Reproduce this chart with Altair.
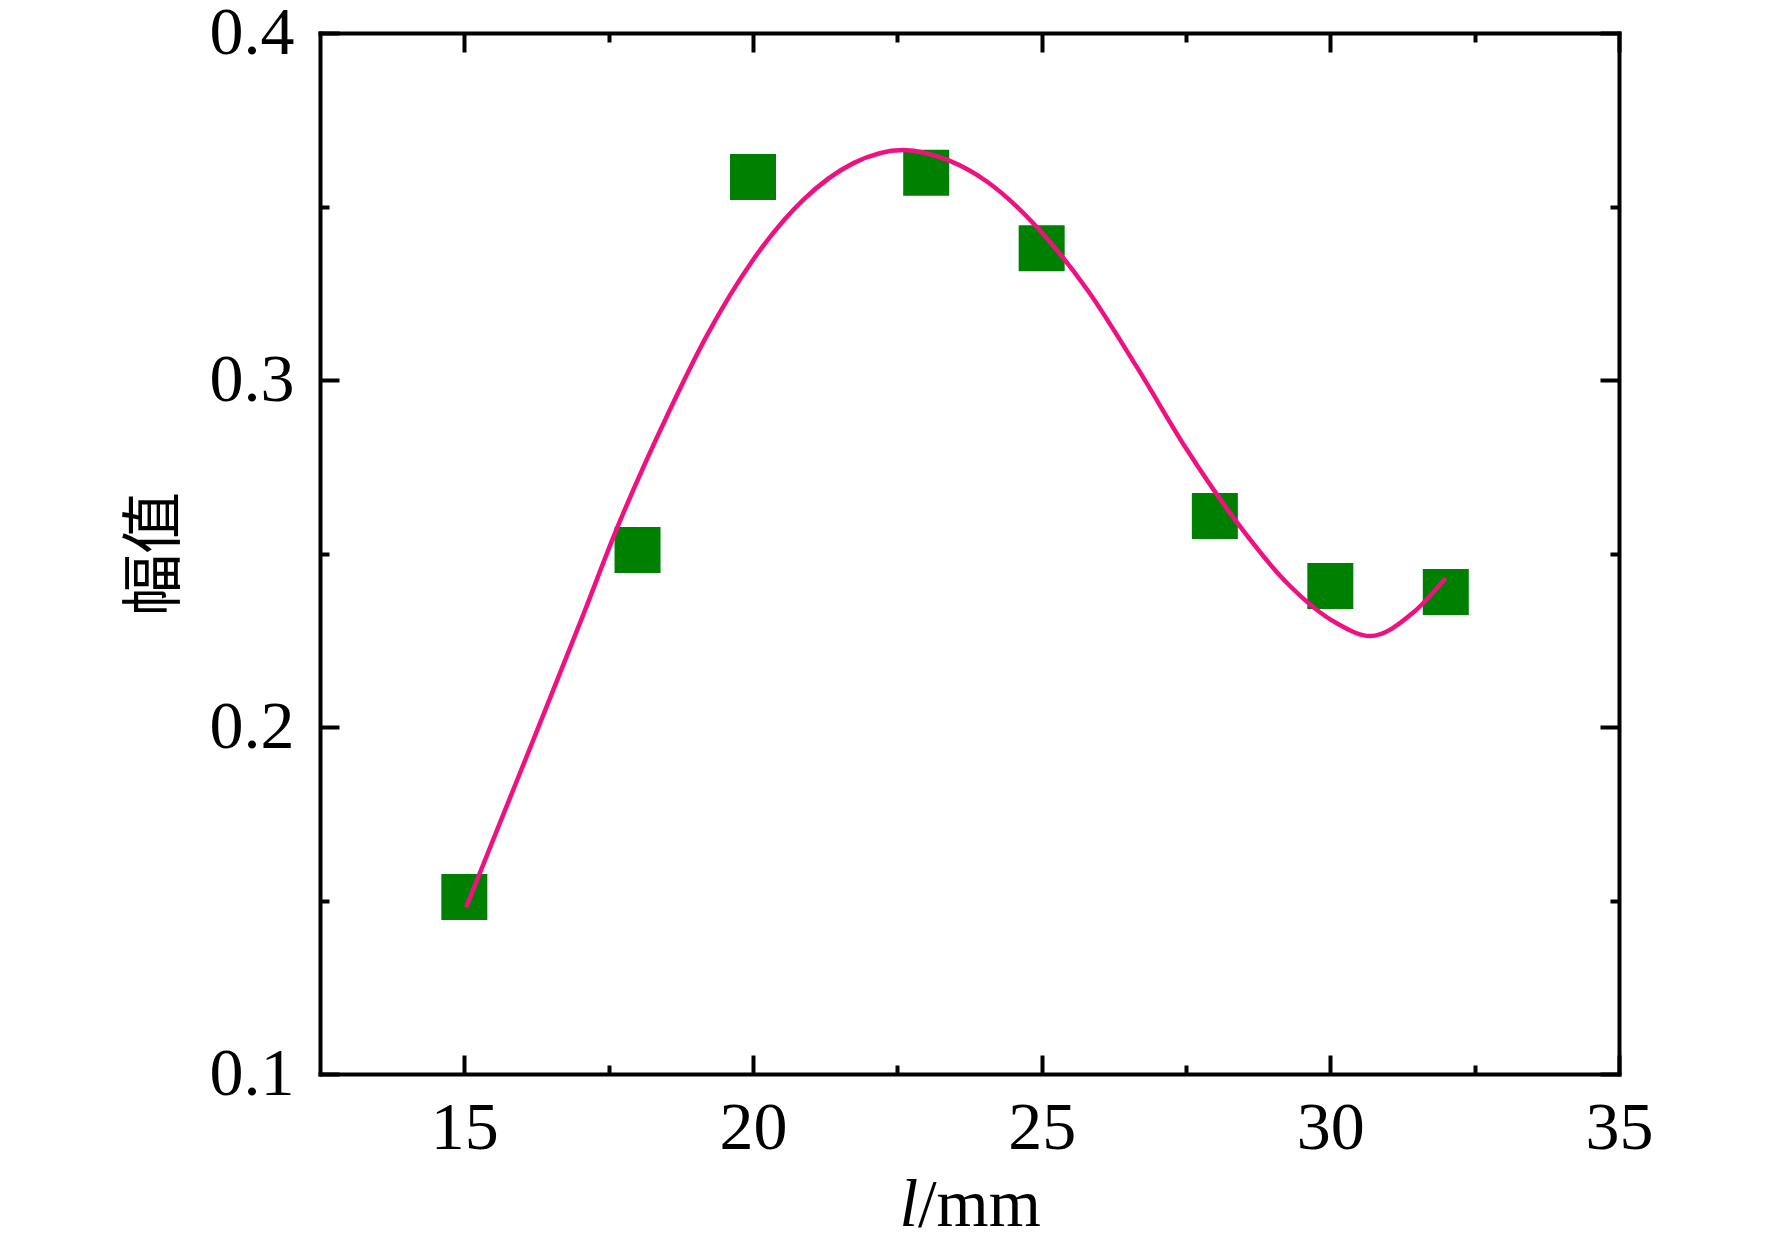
import altair as alt
import pandas as pd

# ---- data ----
l_mm = [15, 18, 20, 23, 25, 28, 30, 32]
amplitude = [0.151, 0.251, 0.3585, 0.3597, 0.338, 0.2608, 0.2406, 0.2389]

fit_x = [15.03, 15.62, 16.2, 17.04, 17.65, 18.52, 19.2, 20.0, 20.87, 21.74, 22.6,
         23.4, 24.05, 24.92, 25.79, 26.65, 27.52, 28.39, 29.25, 30.12, 30.69, 31.43, 32.0]
fit_y = [0.148, 0.1725, 0.1965, 0.2315, 0.2575, 0.29, 0.3128, 0.3346, 0.3519, 0.3625, 0.3663,
         0.3632, 0.3572, 0.344, 0.326, 0.3037, 0.2798, 0.2588, 0.2415, 0.2298, 0.2262, 0.2329, 0.2429]

x_major = [15, 20, 25, 30, 35]
x_ticks = [15, 17.5, 20, 22.5, 25, 27.5, 30, 32.5, 35]
y_major = [0.1, 0.2, 0.3, 0.4]
y_ticks = [0.1, 0.15, 0.2, 0.25, 0.3, 0.35, 0.4]

y_title = "幅值"
x_title_parts = ["l", "/mm"]

# ---- layout ----
W, H = 1299, 1041

pts = pd.DataFrame({"x": l_mm, "y": amplitude})
fit = pd.DataFrame({"x": fit_x, "y": fit_y})

xs = alt.Scale(domain=[12.5, 35], nice=False, zero=False)
ys = alt.Scale(domain=[0.1, 0.4], nice=False, zero=False)

xtick_size = {"condition": {"test": "datum.value % 5 == 0", "value": 19}, "value": 9}
ytick_size = {"condition": {"test": "abs(datum.value*10 - round(datum.value*10)) < 0.001",
                            "value": 19}, "value": 9}

ax_bottom = alt.Axis(orient="bottom", values=x_major, format="d", ticks=False,
                     labelPadding=20, labelFlush=False, domain=True, title=None)
ax_left = alt.Axis(orient="left", values=y_major, format=".1f", ticks=False,
                   labelPadding=26, labelFlush=False, domain=True, title=y_title,
                   titleFont="Noto Sans CJK SC", titleFontSize=62,
                   titleFontWeight="normal", titlePadding=22)
ax_in_bottom = alt.Axis(orient="top", offset=-H, values=x_ticks, labels=False,
                        domain=False, tickSize=xtick_size, title=None)
ax_in_left = alt.Axis(orient="right", offset=-W, values=y_ticks, labels=False,
                      domain=False, tickSize=ytick_size, title=None)
ax_top = alt.Axis(orient="bottom", offset=-H, values=x_ticks, labels=False,
                  domain=True, tickSize=xtick_size, title=None)
ax_right = alt.Axis(orient="left", offset=-W, values=y_ticks, labels=False,
                    domain=True, tickSize=ytick_size, title=None)

points = alt.Chart(pts).mark_square(size=2116, color="#008000", opacity=1, strokeWidth=0).encode(
    x=alt.X("x:Q", scale=xs, axis=ax_bottom),
    y=alt.Y("y:Q", scale=ys, axis=ax_left),
)

curve = alt.Chart(fit).mark_line(color="#F0107F", strokeWidth=4.5, interpolate="monotone").encode(
    x=alt.X("x:Q", scale=xs, axis=ax_in_bottom),
    y=alt.Y("y:Q", scale=ys, axis=ax_in_left),
)

frame = alt.Chart(pts).mark_point(opacity=0).encode(
    x=alt.X("x:Q", scale=xs, axis=ax_top),
    y=alt.Y("y:Q", scale=ys, axis=ax_right),
)

title_l = alt.Chart(pd.DataFrame({"t": [x_title_parts[0]]})).mark_text(
    font="Liberation Serif", fontSize=67, fontStyle="italic", align="right",
    baseline="alphabetic", color="black"
).encode(x=alt.value(598), y=alt.value(1193), text="t:N")

title_mm = alt.Chart(pd.DataFrame({"t": [x_title_parts[1]]})).mark_text(
    font="Liberation Serif", fontSize=67, align="left",
    baseline="alphabetic", color="black"
).encode(x=alt.value(598), y=alt.value(1193), text="t:N")

chart = (
    alt.layer(points, curve, frame, title_l, title_mm)
    .resolve_axis(x="independent", y="independent")
    .properties(
        width=W, height=H,
        padding={"left": 312, "top": 25, "right": 145, "bottom": 166},
        autosize=alt.AutoSizeParams(type="none"),
        background="white",
    )
    .configure_view(stroke=None)
    .configure_axis(
        labelFont="Liberation Serif", labelFontSize=68, labelColor="black",
        domainColor="black", domainWidth=4, domainCap="square",
        tickColor="black", tickWidth=4, grid=False, titleColor="black",
    )
)

chart.save("out.html", embed_options={"renderer": "svg", "actions": False})
